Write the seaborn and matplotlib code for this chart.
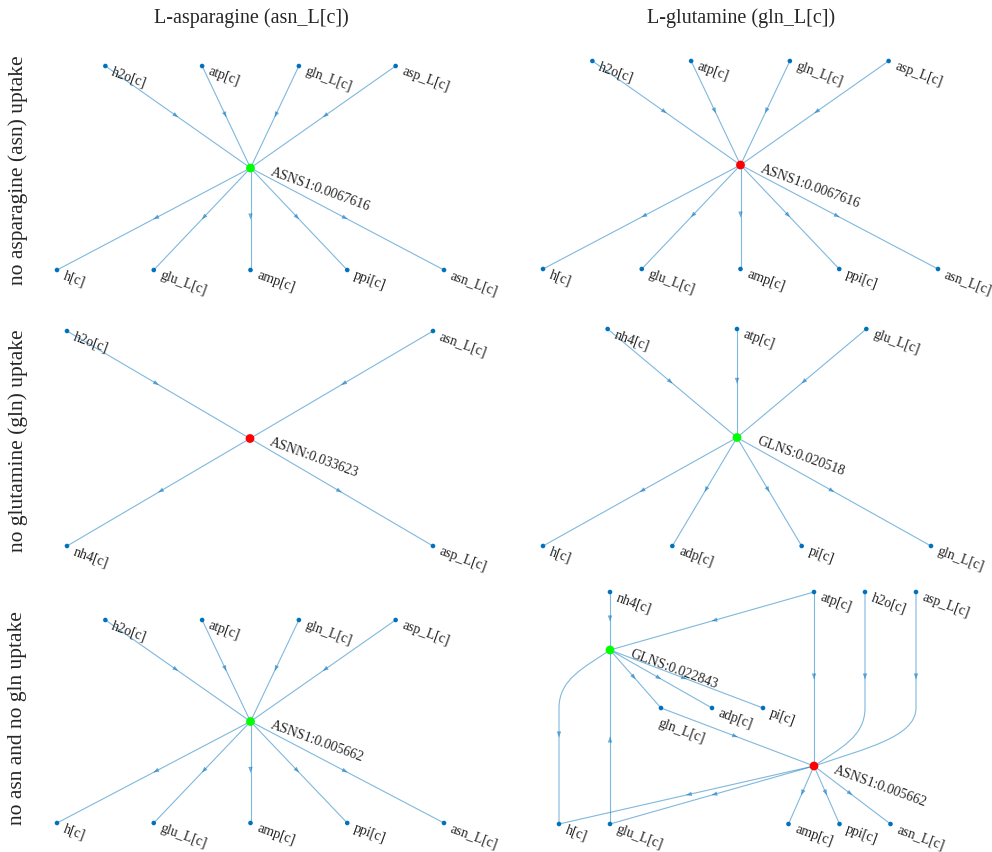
import numpy as np
import pandas as pd
import matplotlib
matplotlib.use("Agg")
import matplotlib.pyplot as plt
from matplotlib.path import Path
from matplotlib.patches import PathPatch, FancyArrowPatch
import seaborn as sns

# ---------------------------------------------------------------- data
col_titles = ["L-asparagine (asn_L[c])", "L-glutamine (gln_L[c])"]
col_targets = ["asn_L[c]", "gln_L[c]"]
row_titles = ["no asparagine (asn) uptake",
              "no glutamine (gln) uptake",
              "no asn and no gln uptake"]

# reaction stoichiometry (substrates -> products)
asns1_substrates = ["h2o[c]", "atp[c]", "gln_L[c]", "asp_L[c]"]
asns1_products = ["h[c]", "glu_L[c]", "amp[c]", "ppi[c]", "asn_L[c]"]
asnn_substrates = ["h2o[c]", "asn_L[c]"]
asnn_products = ["nh4[c]", "asp_L[c]"]
glns_substrates = ["nh4[c]", "atp[c]", "glu_L[c]"]
glns_products = ["h[c]", "adp[c]", "pi[c]", "gln_L[c]"]

# fluxes of the reactions shown in each panel
flux_asns1_no_asn = 0.0067616
flux_asnn_no_gln = 0.033623
flux_glns_no_gln = 0.020518
flux_asns1_no_both = 0.005662
flux_glns_no_both = 0.022843

REACTIONS = {
    "ASNS1": (asns1_substrates, asns1_products),
    "ASNN": (asnn_substrates, asnn_products),
    "GLNS": (glns_substrates, glns_products),
}

panel_reactions = {
    (0, 0): [("ASNS1", flux_asns1_no_asn)],
    (0, 1): [("ASNS1", flux_asns1_no_asn)],
    (1, 0): [("ASNN", flux_asnn_no_gln)],
    (1, 1): [("GLNS", flux_glns_no_gln)],
    (2, 0): [("ASNS1", flux_asns1_no_both)],
    (2, 1): [("GLNS", flux_glns_no_both), ("ASNS1", flux_asns1_no_both)],
}

# ---------------------------------------------------------------- layout
W, H = 992, 853
# pixel extent of the node layout inside each panel (left, right, top, bottom)
panel_boxes = {
    (0, 0): (57, 444, 67, 271),
    (0, 1): (543, 938, 62, 270),
    (1, 0): (67, 433, 332, 547),
    (1, 1): (543, 931, 330, 547),
    (2, 0): (57, 444, 621, 824),
    (2, 1): (559, 916, 593, 825),
}
# layered slots (column, layer) for the two-reaction network
two_reaction_slots = {
    "nh4[c]": (1, 0), "atp[c]": (5, 0), "h2o[c]": (6, 0), "asp_L[c]": (7, 0),
    "GLNS": (1, 1),
    "gln_L[c]": (2, 2), "adp[c]": (3, 2), "pi[c]": (4, 2),
    "ASNS1": (5, 3),
    "h[c]": (0, 4), "glu_L[c]": (1, 4), "amp[c]": (4.5, 4),
    "ppi[c]": (5.5, 4), "asn_L[c]": (6.5, 4),
}
# labels that sit below their node instead of to the right
label_below = {((2, 1), "gln_L[c]")}

EDGE_RGBA = (0.0, 0.447, 0.741, 0.5)
NODE_BLUE = "#0072BD"
TEXT_COL = "#262626"
SERIF = ["Liberation Serif", "DejaVu Serif"]

sns.set_theme(style="white")
plt.rcParams["font.family"] = SERIF


def star_layout(rxn):
    subs, prods = REACTIONS[rxn]
    pos = {}
    for i, m in enumerate(subs):
        pos[m] = (i - (len(subs) - 1) / 2, 0)
    pos[rxn] = (0, 1)
    for i, m in enumerate(prods):
        pos[m] = (i - (len(prods) - 1) / 2, 2)
    return pos


def bezier_point(p0, p1, p2, p3, t):
    p0, p1, p2, p3 = map(np.asarray, (p0, p1, p2, p3))
    return ((1 - t) ** 3 * p0 + 3 * (1 - t) ** 2 * t * p1
            + 3 * (1 - t) * t ** 2 * p2 + t ** 3 * p3)


def route(src, dst, pos, met):
    """Points of an edge through dummy layers; dummies follow the metabolite column."""
    (x0, l0), (x1, l1) = pos[src], pos[dst]
    mx = pos[met][0]
    step = 1 if l1 > l0 else -1
    pts = [(x0, l0)]
    for l in range(l0 + step, l1, step):
        pts.append((mx, l))
    pts.append((x1, l1))
    return pts


def curve_ctrl(a, b, a_is_dummy):
    """Cubic control points between a dummy point and a reaction node."""
    d, r = (a, b) if a_is_dummy else (b, a)
    c_d = (d[0], d[1] + 0.5 * (r[1] - d[1]))
    c_r = (r[0] + 0.5 * (d[0] - r[0]), r[1] + 0.3 * (d[1] - r[1]))
    return (c_d, c_r) if a_is_dummy else (c_r, c_d)


def draw_edge(ax, src, dst, pos, met):
    pts = route(src, dst, pos, met)
    n = len(pts)
    verts, codes = [pts[0]], [Path.MOVETO]
    seg_geom = []
    for i in range(n - 1):
        a, b = pts[i], pts[i + 1]
        a_dummy = 0 < i
        b_dummy = i + 1 < n - 1
        if a[0] == b[0] or (not a_dummy and not b_dummy):
            verts.append(b)
            codes.append(Path.LINETO)
            seg_geom.append(("line", a, b))
        else:
            c1, c2 = curve_ctrl(a, b, a_dummy)
            verts += [c1, c2, b]
            codes += [Path.CURVE4] * 3
            seg_geom.append(("curve", a, c1, c2, b))
    ax.add_patch(PathPatch(Path(verts, codes), fill=False, edgecolor=EDGE_RGBA,
                           lw=0.8, zorder=1, clip_on=False))
    # arrow head in the middle of the middle segment
    g = seg_geom[len(seg_geom) // 2]
    if g[0] == "line":
        a, b = np.asarray(g[1]), np.asarray(g[2])
        mid = (a + b) / 2
        d = (b - a) * 1e-3
    else:
        mid = bezier_point(*g[1:], 0.5)
        d = bezier_point(*g[1:], 0.501) - mid
    arr = FancyArrowPatch(tuple(mid - d), tuple(mid + d),
                          arrowstyle="-|>,head_length=0.5,head_width=0.2",
                          mutation_scale=6.5, color=EDGE_RGBA, lw=0.4,
                          shrinkA=0, shrinkB=0, zorder=2, clip_on=False)
    ax.add_patch(arr)


fig = plt.figure(figsize=(W / 100, H / 100), dpi=100)

for (r, c), rxns in panel_reactions.items():
    x0p, x1p, y0p, y1p = panel_boxes[(r, c)]
    ax = fig.add_axes([x0p / W, 1 - y1p / H, (x1p - x0p) / W, (y1p - y0p) / H])
    target = col_targets[c]

    if len(rxns) == 1:
        pos = star_layout(rxns[0][0])
    else:
        pos = dict(two_reaction_slots)

    # edges
    for rxn, flux in rxns:
        subs, prods = REACTIONS[rxn]
        for m in subs:
            draw_edge(ax, m, rxn, pos, m)
        for m in prods:
            draw_edge(ax, rxn, m, pos, m)

    # nodes
    rows = []
    for name, (x, y) in pos.items():
        if name in REACTIONS:
            kind = "produces" if target in REACTIONS[name][1] else "consumes"
        else:
            kind = "metabolite"
        rows.append(dict(name=name, x=x, y=y, kind=kind))
    nodes = pd.DataFrame(rows)
    sns.scatterplot(data=nodes, x="x", y="y", hue="kind", size="kind",
                    palette={"metabolite": NODE_BLUE, "produces": "#00FF00",
                             "consumes": "#FF0000"},
                    sizes={"metabolite": 11, "produces": 40, "consumes": 40},
                    linewidth=0, legend=False, ax=ax, zorder=3)
    for coll in ax.collections:
        coll.set_clip_on(False)

    # labels
    flux_of = dict(rxns)
    for _, nd in nodes.iterrows():
        if nd["name"] in REACTIONS:
            txt = f"{nd['name']}:{flux_of[nd['name']]:g}"
            off = (14.5, -1.8)
        else:
            txt = nd["name"]
            off = (5.0, -3.0)
            if ((r, c), nd["name"]) in label_below:
                off = (-1.5, -10.0)
        ax.annotate(txt, (nd["x"], nd["y"]), xytext=off, textcoords="offset points",
                    rotation=-20, rotation_mode="anchor", ha="left", va="center",
                    fontsize=10, color=TEXT_COL, family=SERIF, zorder=4,
                    annotation_clip=False)

    xs = [p[0] for p in pos.values()]
    ys = [p[1] for p in pos.values()]
    ax.set_xlim(min(xs), max(xs))
    ax.set_ylim(max(ys), min(ys))
    ax.set_axis_off()

# column and row headings
for c, (t, cx) in enumerate(zip(col_titles, [251, 741])):
    fig.text(cx / W, 1 - 18 / H, t, ha="center", va="center", fontsize=14.5,
             color=TEXT_COL, family=SERIF)
for t, cy in zip(row_titles, [170, 441, 718]):
    fig.text(18 / W, 1 - cy / H, t, ha="center", va="center", rotation=90,
             fontsize=15.5, color=TEXT_COL, family=SERIF)

fig.savefig("out.png", dpi=100)
